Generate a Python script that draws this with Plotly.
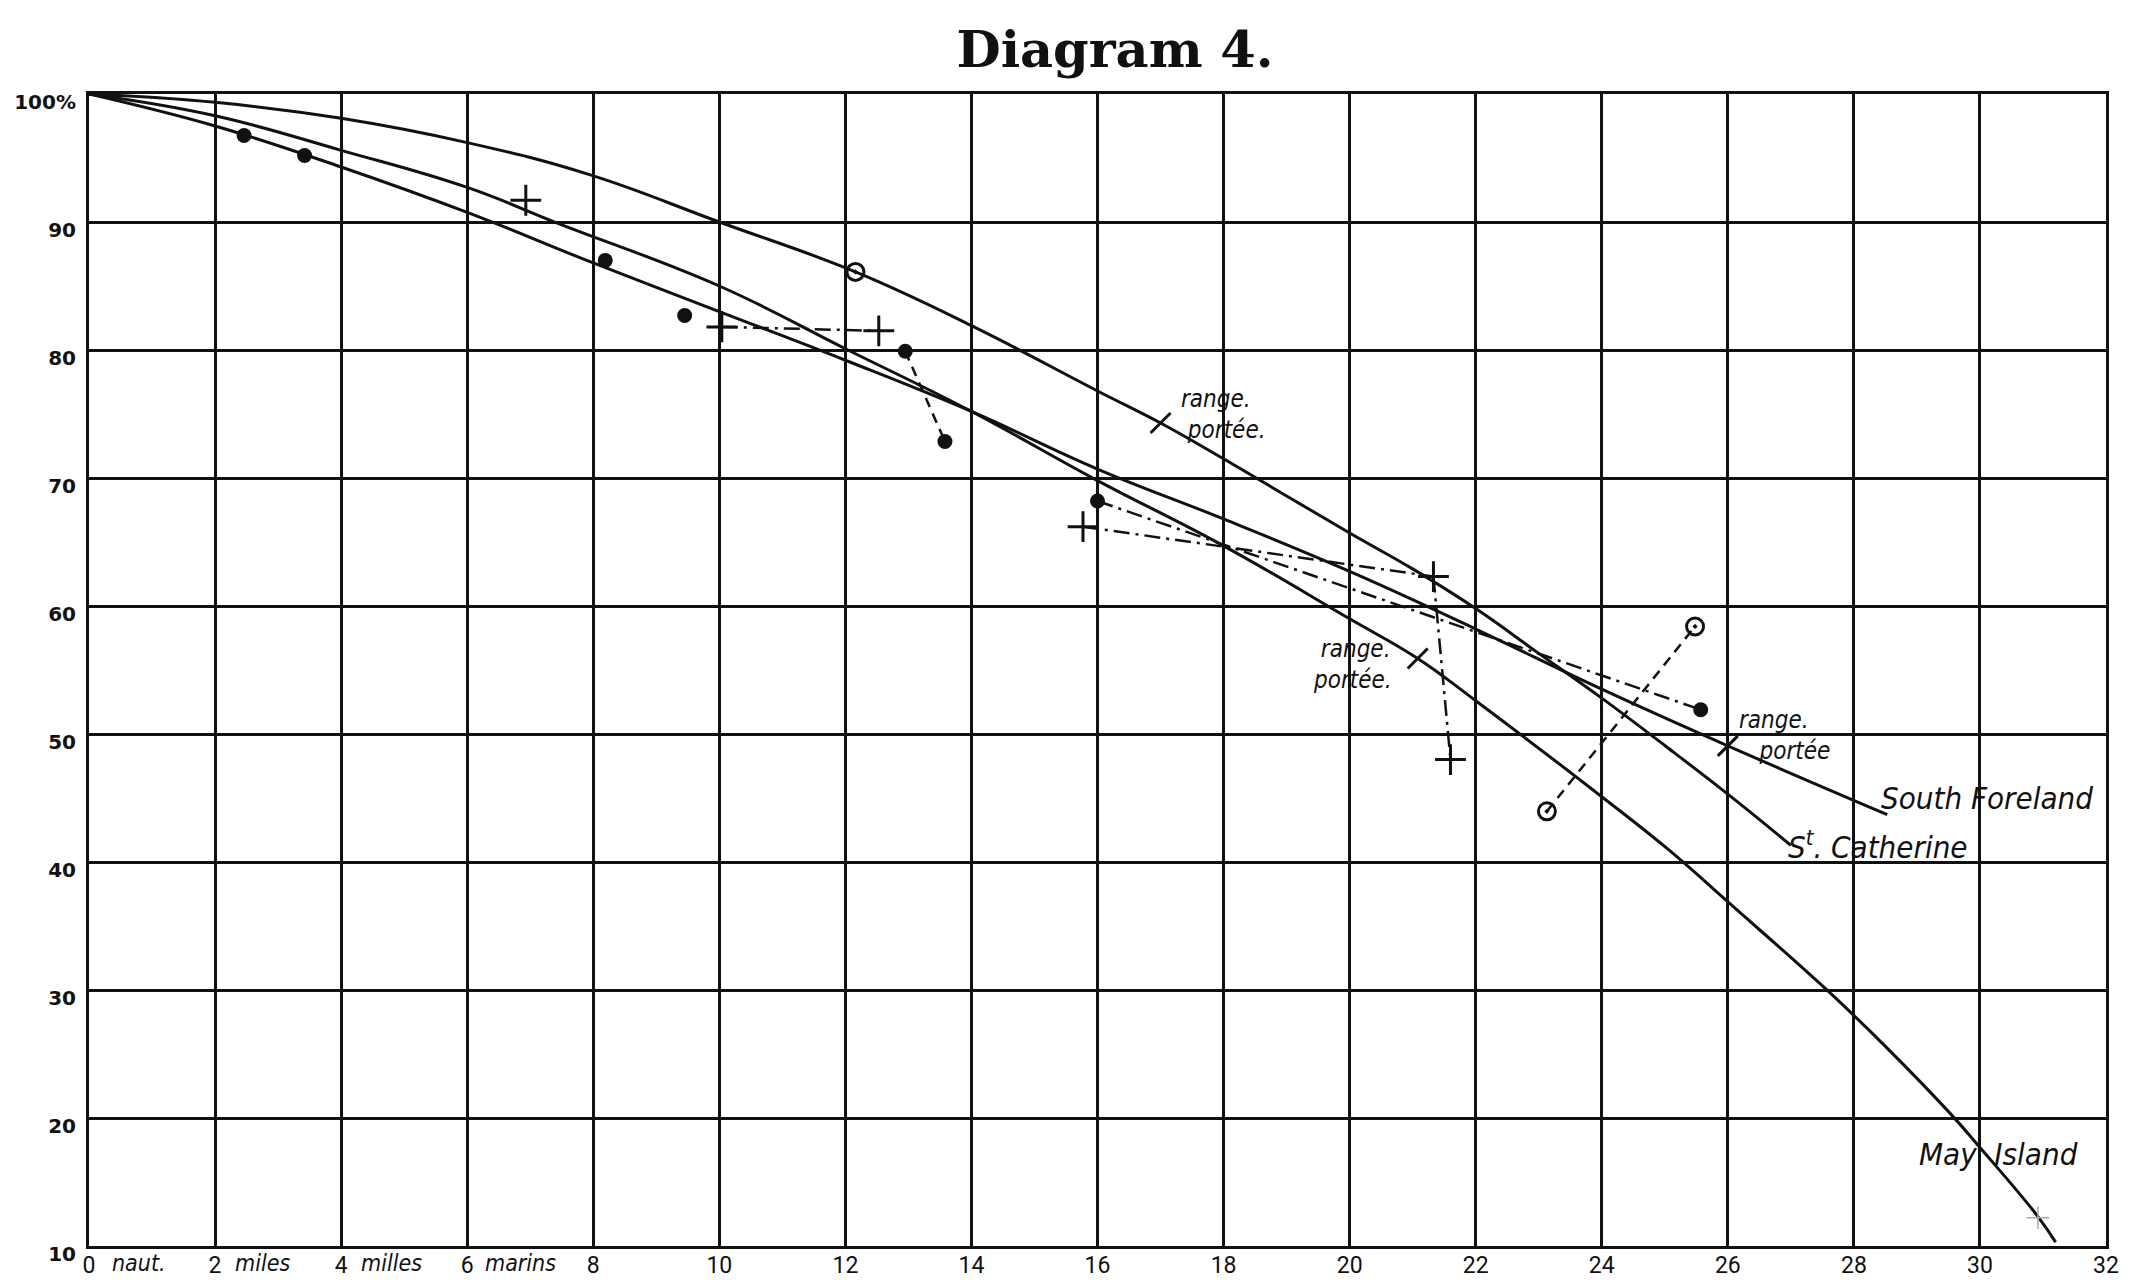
import plotly.graph_objects as go

# ---------------- data ----------------
# Curves: distance (nautical miles) vs percentage
sc_x = [0, 2, 4, 6, 7.94, 10, 12.16, 14, 16, 17, 18, 20, 21, 22, 23, 24, 25, 26, 27.0]
sc_y = [100, 99.35, 98.1, 96.2, 93.7, 90.0, 86.1, 81.9, 76.8, 74.3, 71.5, 65.7, 62.9, 59.8, 56.3, 52.8, 49.1, 45.3, 41.3]

sf_x = [0, 2, 4, 6, 8, 10, 12, 14, 16, 18, 20, 22, 24, 26, 28.53]
sf_y = [100, 97.5, 94.3, 90.75, 86.8, 83.0, 79.2, 75.2, 70.7, 66.8, 62.7, 58.2, 53.5, 49.07, 43.7]

mi_x = [0, 2, 4, 6, 7.44, 10, 12, 14, 16, 18, 20, 21.08, 22, 24, 25.06, 26.02, 27.55, 28.5, 29.52, 30.0, 30.92, 31.2]
mi_y = [100, 98.3, 95.6, 92.7, 89.9, 85.0, 80.1, 75.2, 69.8, 64.7, 59.0, 55.9, 52.6, 45.1, 40.96, 36.8, 30.1, 25.6, 20.4, 17.7, 12.3, 10.3]

# Observations
dot_x = [2.46, 3.42, 8.19, 9.45, 12.95, 13.58, 16.0, 25.57]
dot_y = [96.76, 95.2, 87.0, 82.7, 79.9, 72.85, 68.2, 51.9]

plus_x = [6.93, 10.04, 12.53, 15.77, 21.33, 21.6]
plus_y = [91.7, 81.8, 81.5, 66.2, 62.3, 48.0]

ring_x = [12.16, 23.13, 25.48]
ring_y = [86.1, 43.96, 58.4]

faint_x = [30.92]
faint_y = [12.2]

# Range marks on the curves
range_x = [17.0, 21.08, 26.0]
range_y = [74.3, 55.9, 49.07]

# Connections between observations: (index a, index b, dash)
dot_links = [(4, 5, "dash"), (6, 7, "dashdot")]
plus_links = [(1, 2, "dashdot"), (3, 4, "dashdot"), (4, 5, "dashdot")]
ring_links = [(1, 2, "dash")]

x_ticks = list(range(0, 33, 2))
x_tick_text = [str(v) for v in x_ticks]
x_words = ["naut.", "miles", "milles", "marins"]
x_word_pos = [0.8, 2.75, 4.8, 6.85]

y_ticks = list(range(10, 101, 10))
y_tick_text = [str(v) if v < 100 else "100%" for v in y_ticks]

curve_names = ["South Foreland", "S<sup>t</sup>. Catherine", "May\u00a0\u00a0Island"]
curve_label_x = [28.4, 26.92, 29.0]
curve_label_y = [45.0, 41.3, 17.2]

range_text = ["range.<br>\u00a0portée.", "\u00a0range.<br>portée.", "range.<br>\u00a0\u00a0\u00a0portée"]
range_text_x = [17.3, 19.38, 26.15]
range_text_y = [74.95, 55.4, 49.9]

INK = "#111111"
ITALIC = "Liberation Sans Narrow, DejaVu Sans Condensed, Roboto, sans-serif"

fig = go.Figure()

for xs, ys in [(sc_x, sc_y), (sf_x, sf_y), (mi_x, mi_y)]:
    fig.add_trace(go.Scatter(x=xs, y=ys, mode="lines",
                             line=dict(color=INK, width=3, shape="spline", smoothing=1.2),
                             hoverinfo="skip", showlegend=False))

dash_map = {"dash": "10px,7px", "dashdot": "16px,6px,3px,6px"}
for (px, py, links) in [(dot_x, dot_y, dot_links), (plus_x, plus_y, plus_links), (ring_x, ring_y, ring_links)]:
    for a, b, d in links:
        fig.add_trace(go.Scatter(x=[px[a], px[b]], y=[py[a], py[b]], mode="lines",
                                 line=dict(color=INK, width=2.5, dash=dash_map[d]),
                                 hoverinfo="skip", showlegend=False))

fig.add_trace(go.Scatter(x=dot_x, y=dot_y, mode="markers",
                         marker=dict(symbol="circle", size=15, color=INK),
                         showlegend=False))
fig.add_trace(go.Scatter(x=plus_x, y=plus_y, mode="markers",
                         marker=dict(symbol="cross-thin-open", size=22, color=INK,
                                     line=dict(color=INK, width=3)),
                         showlegend=False))
fig.add_trace(go.Scatter(x=ring_x, y=ring_y, mode="markers",
                         marker=dict(symbol="circle-open-dot", size=17, color=INK,
                                     line=dict(color=INK, width=3)),
                         showlegend=False))
fig.add_trace(go.Scatter(x=faint_x, y=faint_y, mode="markers",
                         marker=dict(symbol="cross-thin-open", size=16, color="#aaaaaa",
                                     line=dict(color="#aaaaaa", width=1.5)),
                         showlegend=False))
fig.add_trace(go.Scatter(x=range_x, y=range_y, mode="markers",
                         marker=dict(symbol="line-ne-open", size=20, color=INK,
                                     line=dict(color=INK, width=3)),
                         showlegend=False))

annotations = []
for t, x, y in zip(curve_names, curve_label_x, curve_label_y):
    annotations.append(dict(x=x, y=y, xref="x", yref="y", text=t, showarrow=False,
                            xanchor="left", yanchor="middle", align="left",
                            font=dict(family=ITALIC, size=31, color=INK, style="italic")))
for t, x, y in zip(range_text, range_text_x, range_text_y):
    annotations.append(dict(x=x, y=y, xref="x", yref="y", text=t, showarrow=False,
                            xanchor="left", yanchor="middle", align="left",
                            font=dict(family=ITALIC, size=24, color=INK, style="italic")))
for t, x in zip(x_words, x_word_pos):
    annotations.append(dict(x=x, y=0, xref="x", yref="paper", text=t, showarrow=False,
                            xanchor="center", yanchor="top", yshift=-2,
                            font=dict(family=ITALIC, size=23, color=INK, style="italic")))

fig.update_layout(
    width=2129, height=1284,
    margin=dict(l=81, r=31, t=86, b=46),
    paper_bgcolor="white", plot_bgcolor="white",
    title=dict(text="Diagram 4.", x=1107 / 2129, xanchor="center", y=1 - 41 / 1284, yanchor="middle",
               font=dict(family="DejaVu Serif", size=51, color=INK, weight="bold")),
    xaxis=dict(range=[0, 32], tickvals=x_ticks, ticktext=x_tick_text, automargin=False,
               showgrid=True, gridcolor=INK, gridwidth=2.5,
               showline=True, mirror=True, linecolor=INK, linewidth=3,
               zeroline=False, ticks="", ticklabelstandoff=-4,
               tickfont=dict(family="Roboto", size=23, color=INK)),
    yaxis=dict(range=[10, 100], tickvals=y_ticks, ticktext=y_tick_text, automargin=False,
               showgrid=True, gridcolor=INK, gridwidth=2.5,
               showline=True, mirror=True, linecolor=INK, linewidth=3,
               zeroline=False, ticks="", ticklabelshift=8, ticklabelstandoff=6,
               tickfont=dict(family="DejaVu Sans", size=20, color=INK, weight="bold")),
    annotations=annotations,
)

fig.write_html("out.html")
